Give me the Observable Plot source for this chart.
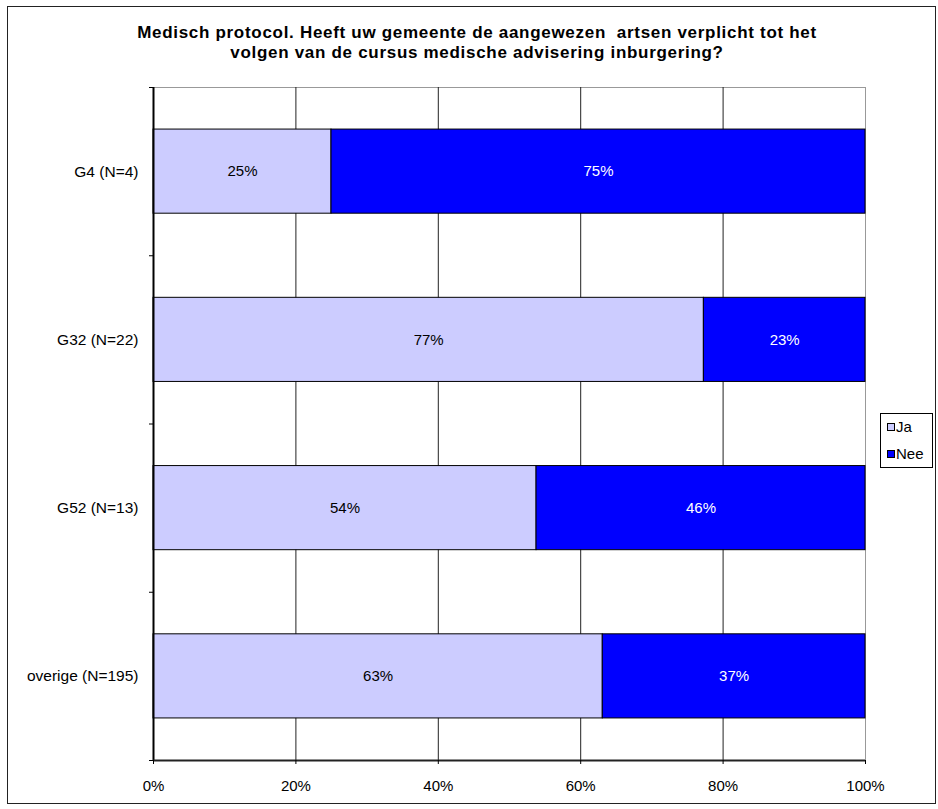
<!DOCTYPE html>
<html><head><meta charset="utf-8">
<script src="https://cdn.jsdelivr.net/npm/d3@7"></script>
<script src="https://cdn.jsdelivr.net/npm/@observablehq/plot@0.6"></script>
<style>
body{margin:0;background:#fff;font-family:"Liberation Sans",Arial,sans-serif;}
#wrap{position:relative;width:938px;height:809px;overflow:hidden;background:#fff;}
#border{position:absolute;left:7px;top:6px;width:929px;height:798px;border:1.5px solid #222;box-sizing:border-box;}
#title{position:absolute;left:0;width:954px;top:23px;text-align:center;font-weight:bold;font-size:17px;letter-spacing:0.7px;line-height:20px;color:#000;}
#chart{position:absolute;left:0;top:0;}
#legend{position:absolute;left:880px;top:413px;width:53px;height:55px;border:1px solid #000;box-sizing:border-box;background:#fff;font-size:15px;}
.item{position:absolute;left:6px;height:18px;line-height:18px;}
.sw{display:inline-block;width:6px;height:6px;border:1px solid #000;margin-right:1px;vertical-align:1px;}
</style>
</head><body>
<div id="wrap">
<div id="border"></div>
<div id="title">Medisch protocol. Heeft uw gemeente de aangewezen&nbsp; artsen verplicht tot het<br>volgen van de cursus medische advisering inburgering?</div>
<div id="chart"></div>
<div id="legend"></div>
</div>
<script>
const categories = ["G4 (N=4)", "G32 (N=22)", "G52 (N=13)", "overige (N=195)"];
const ja = [25, 77.3, 53.8, 63.1];
const nee = [75, 22.7, 46.2, 36.9];
const series = ["Ja", "Nee"];
const colors = ["#CCCCFF", "#0000FF"];
const xTicks = [0, 20, 40, 60, 80, 100];

const rows = [];
categories.forEach((c, i) => {
  rows.push({cat: c, idx: i, s: "Ja", x1: 0, x2: ja[i], v: ja[i]});
  rows.push({cat: c, idx: i, s: "Nee", x1: ja[i], x2: ja[i] + nee[i], v: nee[i]});
});

const chart = Plot.plot({
  width: 938, height: 809,
  marginLeft: 153, marginRight: 73, marginTop: 87, marginBottom: 49,
  x: {domain: [0, 100]},
  y: {domain: [0, categories.length], reverse: true},
  color: {domain: series, range: colors},
  style: {fontFamily: "'Liberation Sans', Arial, sans-serif", fontSize: "15px", background: "transparent", color: "#000"},
  marks: [
    Plot.frame({stroke: "#999"}),
    Plot.ruleX(xTicks.slice(1, -1), {stroke: "#222"}),
    Plot.rectX(rows, {x1: "x1", x2: "x2", y1: d => d.idx + 0.25, y2: d => d.idx + 0.75, fill: "s", stroke: "#000", strokeWidth: 1}),
    Plot.text(rows.filter(d => d.s === "Ja"), {x: d => (d.x1 + d.x2) / 2, y: d => d.idx + 0.5, text: d => Math.round(d.v) + "%", fill: "#000", fontSize: 15}),
    Plot.text(rows.filter(d => d.s === "Nee"), {x: d => (d.x1 + d.x2) / 2, y: d => d.idx + 0.5, text: d => Math.round(d.v) + "%", fill: "#fff", fontSize: 15}),
    Plot.ruleX([0], {stroke: "#000", strokeWidth: 2}),
    Plot.ruleY([categories.length], {stroke: "#222", strokeWidth: 2}),
    Plot.axisX(xTicks, {tickFormat: d => d + "%", tickSize: 4, tickPadding: 16, label: null}),
    Plot.axisY(categories.map((c, i) => i + 0.5), {tickFormat: d => categories[Math.floor(d)], tickSize: 0, tickPadding: 15, label: null, fontSize: 15.5}),
    Plot.axisY(d3.range(categories.length + 1), {tickFormat: () => "", tickSize: 4, label: null})
  ]
});
document.getElementById("chart").appendChild(chart);

const leg = document.getElementById("legend");
series.forEach((s, i) => {
  const it = document.createElement("div");
  it.className = "item";
  it.style.top = (4 + i * 27) + "px";
  it.innerHTML = `<span class="sw" style="background:${colors[i]}"></span>${s}`;
  leg.appendChild(it);
});
</script>
</body></html>
